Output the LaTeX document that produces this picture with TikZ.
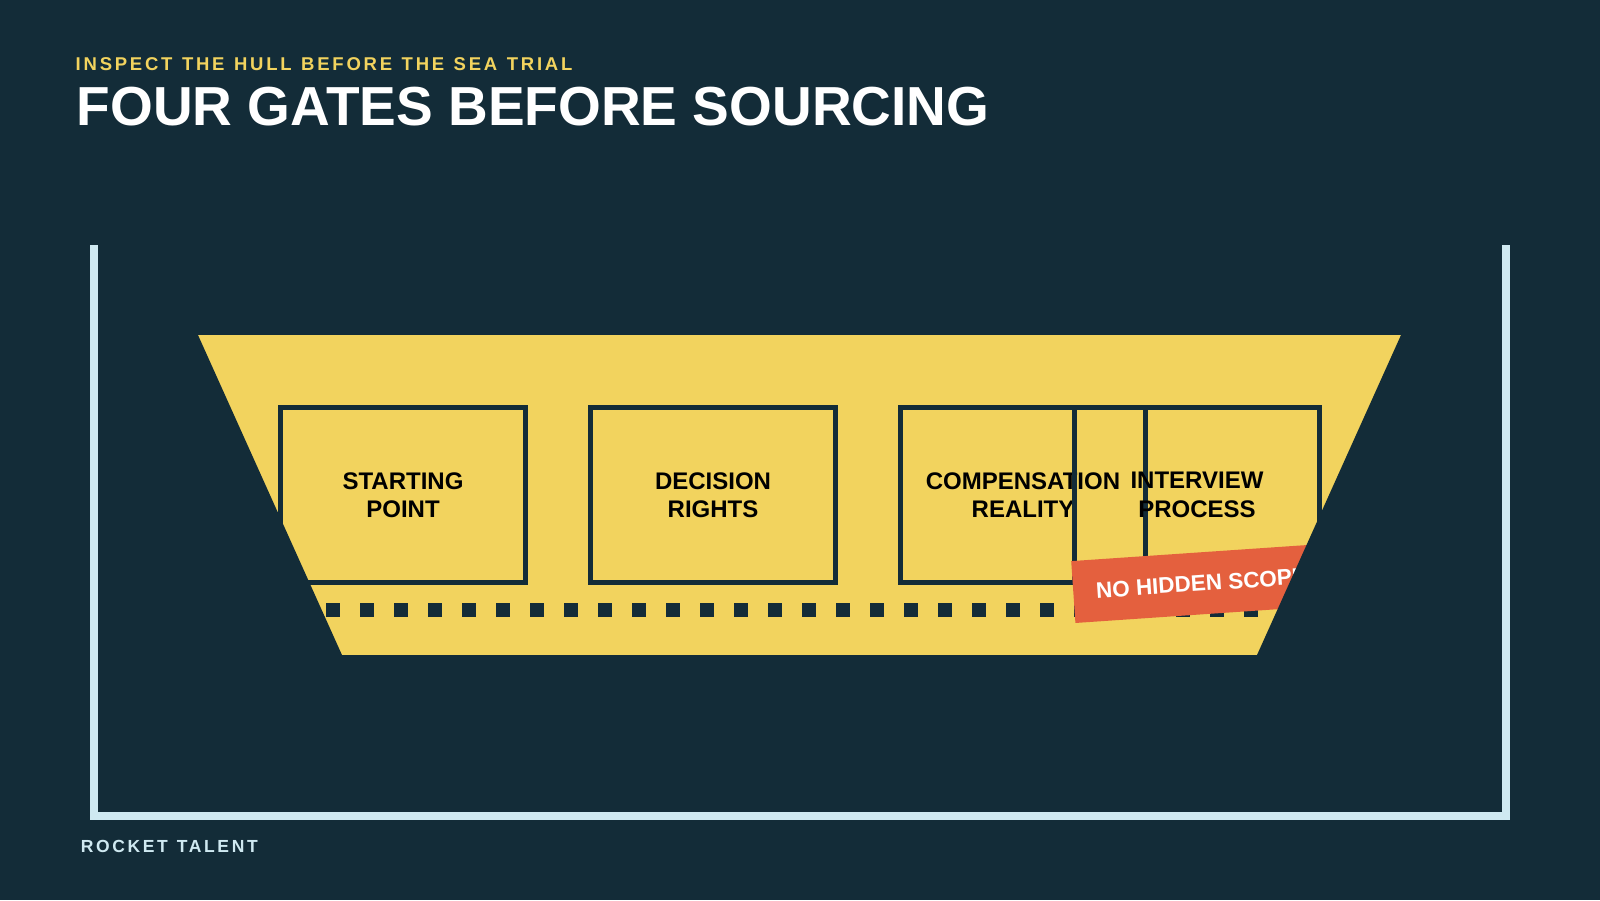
\documentclass[tikz,border=0pt]{standalone}
\usepackage{fontspec}
\setmainfont{Liberation Sans}
\newfontfamily\spacedfont[LetterSpace = 15, WordSpace = 1.2]{Liberation Sans}
\usepackage{tikz}
\definecolor{navy}{HTML}{132C38}
\definecolor{hull}{HTML}{F2D35E}
\definecolor{tagred}{HTML}{E4603E}
\definecolor{rail}{HTML}{CFE9F1}

\begin{document}
\begin{tikzpicture}[x = 1pt, y = -1pt,
        gate/.style = {draw = navy, line width = 5pt, minimum width = 245pt, minimum height = 175pt,
                align = center, text = black, font = \fontsize{24}{28.5}\selectfont\bfseries},
        tag/.style = {fill = tagred, text = white, minimum width = 257pt, minimum height = 62pt,
                font = \fontsize{22.5}{26}\selectfont\bfseries},
        label/.style = {anchor = base west, inner sep = 0pt}]
        \fill[navy] (0,0) rectangle (1600,900);

        \node[label, text = hull, font = \spacedfont\fontsize{18.5}{22}\selectfont\bfseries] (kicker) at (75.5,70.7) {INSPECT THE HULL BEFORE THE SEA TRIAL};
        \node[label, text = white, font = \fontsize{55}{60}\selectfont\bfseries] (title) at (76.5,125) {FOUR GATES BEFORE SOURCING};

        \draw[rail, line width = 8pt] (94,245) -- (94,815.5) -- (1506,815.5) -- (1506,245);

        \fill[hull] (198,335) rectangle (1401,655);
        \node[gate] (start) at (403,495) {STARTING\\POINT};
        \node[gate] (decision) at (713,495) {DECISION\\RIGHTS};
        \node[gate] (comp) at (1023,495) {COMPENSATION\\REALITY};
        \node[gate] (interview) at (1197,495) {INTERVIEW\\PROCESS};

        \foreach \i in {0,...,27}
                \fill[navy] ({326+34*\i},603) rectangle +(14,14);

        \node[tag, rotate = 3.9] (scope) at (1201.5,583.3) {NO HIDDEN SCOPE};

        \fill[navy] (198,335) -- (342,655) -- (197,656) -- (197,334) -- cycle;
        \fill[navy] (1401,335) -- (1257,655) -- (1402,656) -- (1402,334) -- cycle;

        \node[label, text = rail, font = \spacedfont\fontsize{17.5}{21}\selectfont\bfseries] (brand) at (80.7,852.7) {ROCKET TALENT};
    \end{tikzpicture}
\end{document}
